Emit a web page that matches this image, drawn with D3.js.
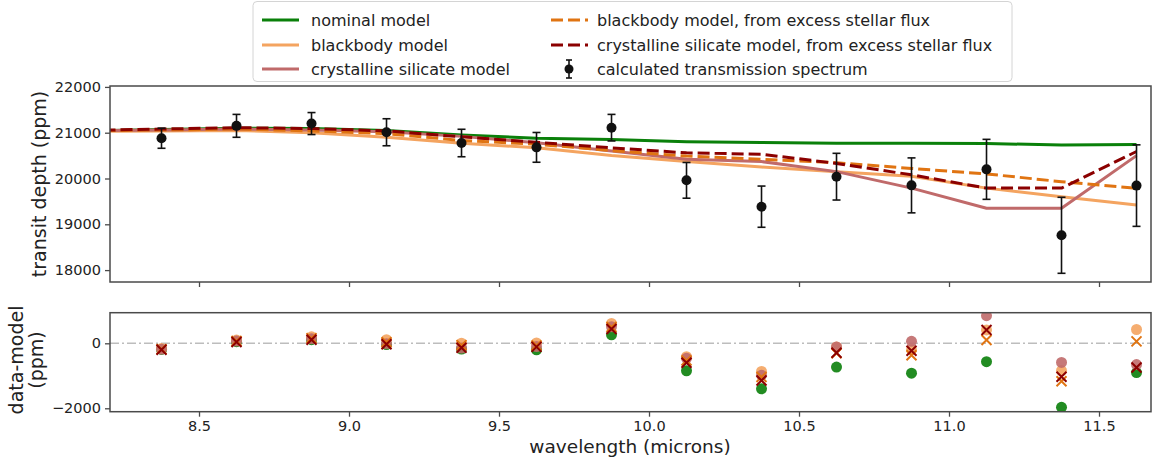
<!DOCTYPE html>
<html>
<head>
<meta charset="utf-8">
<script src="https://cdn.jsdelivr.net/npm/d3@7"></script>
<style>
  html, body { margin: 0; padding: 0; background: #fff; }
  svg { display: block; font-family: "DejaVu Sans", sans-serif; }
</style>
</head>
<body>
<svg id="chart" width="1154" height="460"></svg>
<script>
// ---------------- data ----------------
const wavelength = [8.375, 8.625, 8.875, 9.125, 9.375, 9.625, 9.875, 10.125, 10.375, 10.625, 10.875, 11.125, 11.375, 11.625];
const transitDepth = [20880, 21150, 21200, 21010, 20775, 20680, 21110, 19960, 19385, 20040, 19850, 20200, 18760, 19845];
const depthError = [220, 250, 240, 295, 300, 325, 290, 390, 450, 510, 600, 655, 830, 890];

const modelWavelength = [8.125, 8.375, 8.625, 8.875, 9.125, 9.375, 9.625, 9.875, 10.125, 10.375, 10.625, 10.875, 11.125, 11.375, 11.625];
const nominalModel = [21040, 21070, 21100, 21090, 21050, 20950, 20880, 20850, 20805, 20785, 20770, 20770, 20765, 20730, 20745];
const blackbodyModel = [21030, 21040, 21050, 21000, 20900, 20770, 20670, 20500, 20370, 20250, 20150, 20050, 19790, 19600, 19420];
const silicateModel = [21040, 21060, 21080, 21060, 21020, 20920, 20780, 20600, 20420, 20370, 20150, 19790, 19350, 19350, 20500];
const blackbodyExcessModel = [21040, 21060, 21080, 21040, 20980, 20830, 20750, 20610, 20490, 20420, 20345, 20220, 20100, 19930, 19785];
const silicateExcessModel = [21050, 21080, 21110, 21090, 21040, 20910, 20790, 20670, 20560, 20530, 20330, 20080, 19790, 19790, 20590];

// residuals (data - model)
const residNominal = [-190, 50, 110, -40, -175, -200, 260, -845, -1400, -730, -920, -565, -1970, -900];
const residBlackbody = [-160, 100, 200, 110, 5, 10, 610, -410, -865, -110, -200, 410, -840, 425];
const residSilicate = [-180, 70, 140, -10, -145, -100, 510, -460, -985, -110, 60, 850, -590, -655];
const residBlackbodyExcess = [-180, 70, 160, 30, -55, -70, 500, -530, -1035, -305, -370, 100, -1170, 60];
const residSilicateExcess = [-200, 40, 110, -30, -135, -110, 440, -600, -1145, -290, -230, 410, -1030, -745];

const xTicks = [8.5, 9.0, 9.5, 10.0, 10.5, 11.0, 11.5];
const topYTicks = [18000, 19000, 20000, 21000, 22000];
const bottomYTicks = [-2000, 0];

const legendLabels = ["nominal model", "blackbody model", "crystalline silicate model",
  "blackbody model, from excess stellar flux", "crystalline silicate model, from excess stellar flux",
  "calculated transmission spectrum"];

// ---------------- styles ----------------
const C = {
  nominal: "#0a800a",
  bb: "#f4a460",
  sil: "#c06a6a",
  bbx: "#e07412",
  silx: "#8b0000",
  frame: "#4a4a4a",
  text: "#222"
};

const svg = d3.select("#chart");
const L = 110, R = 1151;
const x = d3.scaleLinear().domain([8.2033, 11.6733]).range([L, R]);
const yTop = d3.scaleLinear().domain([17740, 22020]).range([282, 86]);
const yBot = d3.scaleLinear().domain([-2105, 942]).range([411.7, 312.7]);

// clip
const defs = svg.append("defs");
defs.append("clipPath").attr("id", "clipTop")
  .append("rect").attr("x", L).attr("y", 86).attr("width", R - L).attr("height", 282 - 86);
defs.append("clipPath").attr("id", "clipBot")
  .append("rect").attr("x", L).attr("y", 312.7).attr("width", R - L).attr("height", 411.7 - 312.7);

// ---------------- top panel ----------------
const gTop = svg.append("g");
const lineTop = d3.line().x(d => x(d[0])).y(d => yTop(d[1]));
const models = [
  {v: nominalModel, c: C.nominal, dash: null},
  {v: blackbodyModel, c: C.bb, dash: null},
  {v: silicateModel, c: C.sil, dash: null},
  {v: blackbodyExcessModel, c: C.bbx, dash: "12,5"},
  {v: silicateExcessModel, c: C.silx, dash: "12,5"}
];
const gLines = gTop.append("g").attr("clip-path", "url(#clipTop)");
models.forEach(m => {
  gLines.append("path")
    .datum(modelWavelength.map((w, i) => [w, m.v[i]]))
    .attr("d", lineTop)
    .attr("fill", "none")
    .attr("stroke", m.c)
    .attr("stroke-width", 3)
    .attr("stroke-dasharray", m.dash)
    .attr("stroke-linejoin", "round");
});

// error bars
const gErr = gTop.append("g");
wavelength.forEach((w, i) => {
  const cx = x(w);
  const y1 = yTop(transitDepth[i] - depthError[i]);
  const y2 = yTop(transitDepth[i] + depthError[i]);
  gErr.append("line").attr("x1", cx).attr("x2", cx).attr("y1", y1).attr("y2", y2)
    .attr("stroke", "#111").attr("stroke-width", 1.6);
  [y1, y2].forEach(yy => gErr.append("line").attr("x1", cx - 4).attr("x2", cx + 4)
    .attr("y1", yy).attr("y2", yy).attr("stroke", "#111").attr("stroke-width", 1.6));
  gErr.append("circle").attr("cx", cx).attr("cy", yTop(transitDepth[i])).attr("r", 5).attr("fill", "#111");
});

// axes top
const axTopX = gTop.append("g").attr("transform", "translate(0,282)")
  .call(d3.axisBottom(x).tickValues(xTicks).tickSize(5).tickFormat(""));
const axTopY = gTop.append("g").attr("transform", `translate(${L},0)`)
  .call(d3.axisLeft(yTop).tickValues(topYTicks).tickSize(5).tickPadding(4).tickFormat(d3.format("d")));
gTop.append("rect").attr("x", L).attr("y", 86).attr("width", R - L).attr("height", 196)
  .attr("fill", "none").attr("stroke", C.frame).attr("stroke-width", 1.5);

// ---------------- bottom panel ----------------
const gBot = svg.append("g");
gBot.append("line").attr("x1", L).attr("x2", R).attr("y1", yBot(0)).attr("y2", yBot(0))
  .attr("stroke", "#bdbdbd").attr("stroke-width", 1.5).attr("stroke-dasharray", "9,3,2,3");

const gRes = gBot.append("g").attr("clip-path", "url(#clipBot)");
const circleSets = [
  {v: residNominal, c: C.nominal},
  {v: residBlackbody, c: C.bb},
  {v: residSilicate, c: C.sil}
];
circleSets.forEach(s => {
  gRes.selectAll(null).data(wavelength).enter().append("circle")
    .attr("cx", d => x(d)).attr("cy", (d, i) => yBot(s.v[i])).attr("r", 5.5)
    .attr("fill", s.c).attr("fill-opacity", 0.9);
});
const crossSets = [
  {v: residBlackbodyExcess, c: C.bbx},
  {v: residSilicateExcess, c: C.silx}
];
crossSets.forEach(s => {
  wavelength.forEach((w, i) => {
    const cx = x(w), cy = yBot(s.v[i]), h = 5;
    gRes.append("path")
      .attr("d", `M${cx - h},${cy - h}L${cx + h},${cy + h}M${cx - h},${cy + h}L${cx + h},${cy - h}`)
      .attr("stroke", s.c).attr("stroke-width", 2).attr("fill", "none");
  });
});

const axBotX = gBot.append("g").attr("transform", "translate(0,411.7)")
  .call(d3.axisBottom(x).tickValues(xTicks).tickSize(5).tickPadding(4).tickFormat(d3.format(".1f")));
const axBotY = gBot.append("g").attr("transform", `translate(${L},0)`)
  .call(d3.axisLeft(yBot).tickValues(bottomYTicks).tickSize(5).tickPadding(4)
    .tickFormat(d => d < 0 ? "\u2212" + Math.abs(d) : String(d)));
gBot.append("rect").attr("x", L).attr("y", 312.7).attr("width", R - L).attr("height", 99)
  .attr("fill", "none").attr("stroke", C.frame).attr("stroke-width", 1.5);

// style axes
[axTopX, axTopY, axBotX, axBotY].forEach(a => {
  a.select(".domain").remove();
  a.selectAll(".tick line").attr("stroke", C.frame).attr("stroke-width", 1.3);
  a.selectAll(".tick text").attr("fill", C.text).style("font-size", "14.5px")
    .style("font-family", "DejaVu Sans, sans-serif");
});

// axis labels
svg.append("text").attr("transform", "translate(46,184) rotate(-90)")
  .attr("text-anchor", "middle").attr("fill", C.text).style("font-size", "19px")
  .text("transit depth (ppm)");
const lab2 = svg.append("text").attr("transform", "translate(0,360) rotate(-90)")
  .attr("text-anchor", "middle").attr("fill", C.text).style("font-size", "19px");
lab2.append("tspan").attr("x", 0).attr("y", 23).text("data-model");
lab2.append("tspan").attr("x", 0).attr("y", 43).text("(ppm)");
svg.append("text").attr("x", 630).attr("y", 453).attr("text-anchor", "middle")
  .attr("fill", C.text).style("font-size", "18.5px").text("wavelength (microns)");

// ---------------- legend ----------------
const lg = svg.append("g");
lg.append("rect").attr("x", 253).attr("y", 1.5).attr("width", 759).attr("height", 80).attr("rx", 4)
  .attr("fill", "#fff").attr("fill-opacity", 0.85).attr("stroke", "#d4d4d4").attr("stroke-width", 1);
const rowsY = [20, 45, 69];
const legendItems = [
  {col: 0, row: 0, c: C.nominal, dash: null, type: "line"},
  {col: 0, row: 1, c: C.bb, dash: null, type: "line"},
  {col: 0, row: 2, c: C.sil, dash: null, type: "line"},
  {col: 1, row: 0, c: C.bbx, dash: "12,5", type: "line"},
  {col: 1, row: 1, c: C.silx, dash: "12,5", type: "line"},
  {col: 1, row: 2, c: "#111", dash: null, type: "err"}
];
const colHandleX = [262, 551];
const colTextX = [311, 597];
legendItems.forEach((it, i) => {
  const yy = rowsY[it.row];
  const hx = colHandleX[it.col];
  if (it.type === "line") {
    lg.append("line").attr("x1", hx).attr("x2", hx + 37).attr("y1", yy).attr("y2", yy)
      .attr("stroke", it.c).attr("stroke-width", 3).attr("stroke-dasharray", it.dash);
  } else {
    const cx = hx + 18;
    lg.append("line").attr("x1", cx).attr("x2", cx).attr("y1", yy - 9).attr("y2", yy + 9)
      .attr("stroke", "#111").attr("stroke-width", 1.6);
    [yy - 9, yy + 9].forEach(v => lg.append("line").attr("x1", cx - 3).attr("x2", cx + 3)
      .attr("y1", v).attr("y2", v).attr("stroke", "#111").attr("stroke-width", 1.6));
    lg.append("circle").attr("cx", cx).attr("cy", yy).attr("r", 4.5).attr("fill", "#111");
  }
  lg.append("text").attr("x", colTextX[it.col]).attr("y", yy).attr("dy", "0.35em")
    .attr("fill", C.text).style("font-size", "16px").text(legendLabels[i]);
});
</script>
</body>
</html>
